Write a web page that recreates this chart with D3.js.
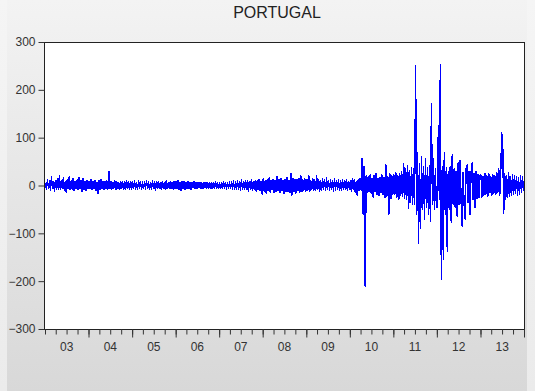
<!DOCTYPE html>
<html>
<head>
<meta charset="utf-8">
<script src="https://cdn.jsdelivr.net/npm/d3@7"></script>
<style>
  html, body { margin: 0; padding: 0; background: #f0f0f0; }
  svg { display: block; font-family: "Liberation Sans", Arial, sans-serif; }
</style>
</head>
<body>
<svg id="chart" width="535" height="391"></svg>
<script>
const title = 'PORTUGAL';
const years = [2003, 2004, 2005, 2006, 2007, 2008, 2009, 2010, 2011, 2012, 2013];
const xLabels = ['03', '04', '05', '06', '07', '08', '09', '10', '11', '12', '13'];
const yTicks = [-300, -200, -100, 0, 100, 200, 300];

// values, roughly one sample per pixel column
const v2003 = [6,-8,12,-5,9,-10,18,-6,8,-12,10,-7,14,-9,20,-8,11,-6,16,-10,9,-14,13,-7,19,-9,10,-8,15,-11,8,-6,12,-9,17,-7,10,-12,14,-8,9,-10,11,-6];
const v2004 = [9,-7,12,-9,8,-6,11,-10,7,-16,10,-8,13,-7,9,-9,8,-6,10,-8,30,-7,9,-8,7,-6,10,-9,8,-7,6,-8,9,-6,7,-9,8,-7,10,-6,7,-8,9,-7];
const v2005 = [7,-6,9,-8,6,-7,10,-5,8,-9,7,-6,8,-7,11,-6,7,-8,6,-7,9,-6,8,-11,7,-6,9,-7,6,-8,8,-6,7,-9,10,-7,6,-6,8,-7,7,-8,9,-6];
const v2006 = [8,-7,10,-9,7,-11,9,-6,8,-8,7,-6,9,-7,6,-8,7,-5,8,-6,6,-7,7,-5,6,-6,5,-7,6,-5,7,-6,5,-5,6,-7,5,-6,6,-5,7,-6,5,-6];
const v2007 = [5,-6,6,-5,7,-6,5,-7,6,-5,7,-6,8,-7,9,-8,7,-9,10,-7,8,-10,12,-8,9,-9,11,-8,10,-12,9,-8,12,-10,8,-9,11,-12,10,-9,13,-11,9,-18];
const v2008 = [14,-12,10,-16,12,-10,16,-14,11,-9,13,-15,10,-12,18,-11,12,-14,15,-10,11,-16,13,-12,16,-13,10,-15,25,-20,14,-12,12,-16,13,-11,15,-14,20,-13,12,-10,14,-12];
const v2009 = [13,-10,20,-12,11,-9,14,-11,12,-10,20,-9,13,-12,10,-10,14,-8,12,-11,16,-9,11,-10,13,-8,10,-12,15,-9,11,-8,12,-10,9,-11,13,-9,10,-8,12,-10,9,-8];
const v2010 = [10,-12,14,-9,12,-15,9,-20,13,-11,15,-10,57,-60,40,-210,20,-14,18,-12,22,-16,15,-24,20,-13,26,-18,14,-20,17,-15,22,-19,16,-25,43,-22,18,-60,24,-28,20,-18];
const v2011 = [22,-18,26,-24,20,-30,24,-20,28,-22,45,-26,35,-30,41,-47,30,-35,38,-40,35,-40,250,-60,68,-120,45,-89,60,-50,40,-70,55,-45,38,-60,42,-74,172,-40,57,-50,35,-45];
const v2012 = [-45,125,-30,252,-196,40,-154,68,-60,37,-137,30,-50,40,-78,64,-39,35,-45,30,-64,47,-40,53,-35,-85,28,-40,-70,35,43,-35,30,-60,28,47,-30,25,-47,30,-28,22,-25,20];
const v2013 = [22,-24,18,-20,25,-18,20,-22,24,-15,18,-20,22,-16,20,-18,26,-14,35,-20,30,110,87,-58,25,-30,20,-25,26,-22,18,-20,22,-18,20,-16,18,-20,16,-18,20,-15,18,-12];

const yearValues = [v2003, v2004, v2005, v2006, v2007, v2008, v2009, v2010, v2011, v2012, v2013];

const width = 535;
const height = 391;
const plot = { left: 44, right: 524, top: 42, bottom: 329 };

const svg = d3.select('#chart');

// background panels
const defs = svg.append('defs');
const outerGrad = defs.append('linearGradient')
  .attr('id', 'outerGrad').attr('x1', 0).attr('y1', 0).attr('x2', 0).attr('y2', 1);
outerGrad.append('stop').attr('offset', '0%').attr('stop-color', '#f5f5f5');
outerGrad.append('stop').attr('offset', '100%').attr('stop-color', '#ebebeb');
const panelGrad = defs.append('linearGradient')
  .attr('id', 'panelGrad').attr('x1', 0).attr('y1', 0).attr('x2', 0).attr('y2', 1);
panelGrad.append('stop').attr('offset', '0%').attr('stop-color', '#f3f3f3');
panelGrad.append('stop').attr('offset', '100%').attr('stop-color', '#d8d8d8');

svg.append('rect').attr('width', width).attr('height', height).attr('fill', 'url(#outerGrad)');
svg.append('rect').attr('x', 7).attr('y', 0).attr('width', 520).attr('height', height)
  .attr('fill', 'url(#panelGrad)');

defs.append('clipPath').attr('id', 'plotClip')
  .append('rect')
  .attr('x', plot.left).attr('y', plot.top)
  .attr('width', plot.right - plot.left).attr('height', plot.bottom - plot.top);

svg.append('rect')
  .attr('x', plot.left).attr('y', plot.top)
  .attr('width', plot.right - plot.left).attr('height', plot.bottom - plot.top)
  .attr('fill', '#fff');

const x = d3.scaleTime()
  .domain([new Date(2003, 0, 1), new Date(2014, 0, 1)])
  .range([plot.left + 1, plot.right]);

const y = d3.scaleLinear()
  .domain([-300, 300])
  .range([plot.bottom, plot.top]);

// spread each year's samples evenly across that year
const points = [];
years.forEach((yr, k) => {
  const start = new Date(yr, 0, 1).getTime();
  const end = new Date(yr + 1, 0, 1).getTime();
  const vals = yearValues[k];
  vals.forEach((v, i) => {
    points.push({ date: new Date(start + (end - start) * (i + 0.5) / vals.length), value: v });
  });
});

const line = d3.line()
  .x(d => x(d.date))
  .y(d => y(d.value));

svg.append('path')
  .datum(points)
  .attr('clip-path', 'url(#plotClip)')
  .attr('fill', 'none')
  .attr('stroke', '#0000ff')
  .attr('stroke-width', 1.4)
  .attr('stroke-linejoin', 'round')
  .style('shape-rendering', 'crispEdges')
  .attr('d', line);

// frame
svg.append('rect')
  .attr('x', plot.left + 0.5).attr('y', plot.top + 0.5)
  .attr('width', plot.right - plot.left).attr('height', plot.bottom - plot.top)
  .attr('fill', 'none')
  .attr('stroke', '#222')
  .attr('stroke-width', 1);

// y axis
const yAxis = svg.append('g')
  .attr('transform', `translate(${plot.left + 0.5},0)`)
  .call(d3.axisLeft(y).tickValues(yTicks).tickSize(6).tickPadding(3));
yAxis.select('.domain').remove();
yAxis.selectAll('line').attr('stroke', '#333');
yAxis.selectAll('text')
  .attr('fill', '#333')
  .style('font-size', '12px')
  .style('font-family', '"Liberation Sans", Arial, sans-serif');

// x axis: quarterly minor ticks, yearly major ticks
const xMinor = svg.append('g')
  .attr('transform', `translate(0,${plot.bottom + 0.5})`)
  .call(d3.axisBottom(x).ticks(d3.timeMonth.every(3)).tickSize(5).tickFormat(''));
xMinor.select('.domain').remove();
xMinor.selectAll('line').attr('stroke', '#333');

const xMajor = svg.append('g')
  .attr('transform', `translate(0,${plot.bottom + 0.5})`)
  .call(d3.axisBottom(x).ticks(d3.timeYear.every(1)).tickSize(8).tickFormat(''));
xMajor.select('.domain').remove();
xMajor.selectAll('line').attr('stroke', '#333');
xMajor.selectAll('.tick').filter(d => d.getFullYear() === 2003).remove();

svg.append('g')
  .selectAll('text')
  .data(years)
  .enter()
  .append('text')
  .attr('x', (d) => x(new Date(d, 6, 2)))
  .attr('y', 351)
  .attr('text-anchor', 'middle')
  .attr('fill', '#333')
  .style('font-size', '12px')
  .text((d, i) => xLabels[i]);

svg.append('text')
  .attr('x', 277)
  .attr('y', 18)
  .attr('text-anchor', 'middle')
  .attr('fill', '#222')
  .style('font-size', '16px')
  .text(title);
</script>
</body>
</html>
